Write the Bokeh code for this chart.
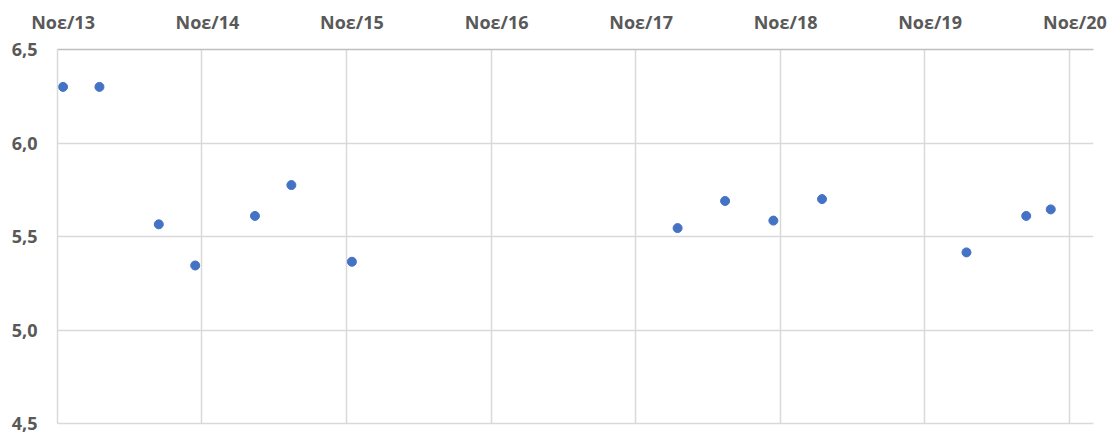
import pandas as pd
from bokeh.plotting import figure
from bokeh.models import Range1d, FixedTicker, CustomJSTickFormatter, ColumnDataSource, LinearAxis
from bokeh.embed import file_html
from bokeh.resources import INLINE

# ---- data ----
dates = ["2013-11-15", "2014-02-15", "2014-07-15", "2014-10-15", "2015-03-15",
         "2015-06-15", "2015-11-15", "2018-02-15", "2018-06-15", "2018-10-15",
         "2019-02-15", "2020-02-15", "2020-07-15", "2020-09-15"]
values = [6.30, 6.30, 5.565, 5.345, 5.61, 5.775, 5.365, 5.545, 5.69, 5.585,
          5.70, 5.415, 5.61, 5.645]
tick_years = [2013, 2014, 2015, 2016, 2017, 2018, 2019, 2020]
tick_labels = ["Νοε/13", "Νοε/14", "Νοε/15", "Νοε/16", "Νοε/17", "Νοε/18", "Νοε/19", "Νοε/20"]
y_ticks = [4.5, 5.0, 5.5, 6.0, 6.5]

FONT = "Open Sans"
TXT = "#595959"

src = ColumnDataSource(dict(x=pd.to_datetime(dates), y=values))

p = figure(width=1111, height=435, output_backend="svg", toolbar_location=None,
           x_axis_type="datetime", x_axis_location="above",
           x_range=Range1d(pd.Timestamp("2013-11-01"), pd.Timestamp("2021-01-01")),
           y_range=Range1d(4.5, 6.5),
           min_border_left=57, min_border_right=18, min_border_top=49, min_border_bottom=12)
p.outline_line_color = None
p.background_fill_color = "white"
p.border_fill_color = "white"

grid_ms = [pd.Timestamp(f"{y}-11-01").value / 1e6 for y in tick_years]
label_ms = [pd.Timestamp(f"{y}-11-15").value / 1e6 for y in tick_years]

xa = p.xaxis[0]
xa.ticker = FixedTicker(ticks=label_ms)
xa.formatter = CustomJSTickFormatter(args=dict(tpos=label_ms, tlbl=tick_labels), code="""
let best = 0, bd = Infinity;
for (let i = 0; i < tpos.length; i++) { const d = Math.abs(tpos[i] - tick); if (d < bd) { bd = d; best = i; } }
return tlbl[best];
""")
xa.major_tick_out = 0
xa.major_tick_in = 0
xa.minor_tick_out = 0
xa.minor_tick_in = 0
xa.axis_line_color = "#bfbfbf"
xa.axis_line_width = 1.5
xa.major_label_standoff = 16
xa.major_label_text_font = FONT
xa.major_label_text_font_style = "bold"
xa.major_label_text_font_size = "18px"
xa.major_label_text_color = TXT

# plain bottom line (frame edge at 4,5)
bottom = LinearAxis(ticker=FixedTicker(ticks=[]), axis_line_color="#d9d9d9", axis_line_width=1.5,
                    major_tick_out=0, major_tick_in=0, minor_tick_out=0, minor_tick_in=0,
                    major_label_standoff=0, major_label_text_alpha=0)
p.add_layout(bottom, "below")

ya = p.yaxis[0]
ya.ticker = FixedTicker(ticks=y_ticks)
ya.formatter = CustomJSTickFormatter(code="return tick.toFixed(1).replace('.', ',');")
ya.major_tick_out = 0
ya.major_tick_in = 0
ya.minor_tick_out = 0
ya.minor_tick_in = 0
ya.axis_line_color = "#d9d9d9"
ya.axis_line_width = 1.5
ya.major_label_standoff = 20
ya.major_label_text_font = FONT
ya.major_label_text_font_style = "bold"
ya.major_label_text_font_size = "18px"
ya.major_label_text_color = TXT

p.xgrid.ticker = FixedTicker(ticks=grid_ms)
p.xgrid.grid_line_color = "#d9d9d9"
p.xgrid.grid_line_width = 1.5
p.ygrid.grid_line_color = "#d9d9d9"
p.ygrid.grid_line_width = 1.5

p.scatter("x", "y", source=src, size=9, fill_color="#4472C4", line_color="#4472C4")

open("out.html", "w").write(file_html(p, INLINE))
